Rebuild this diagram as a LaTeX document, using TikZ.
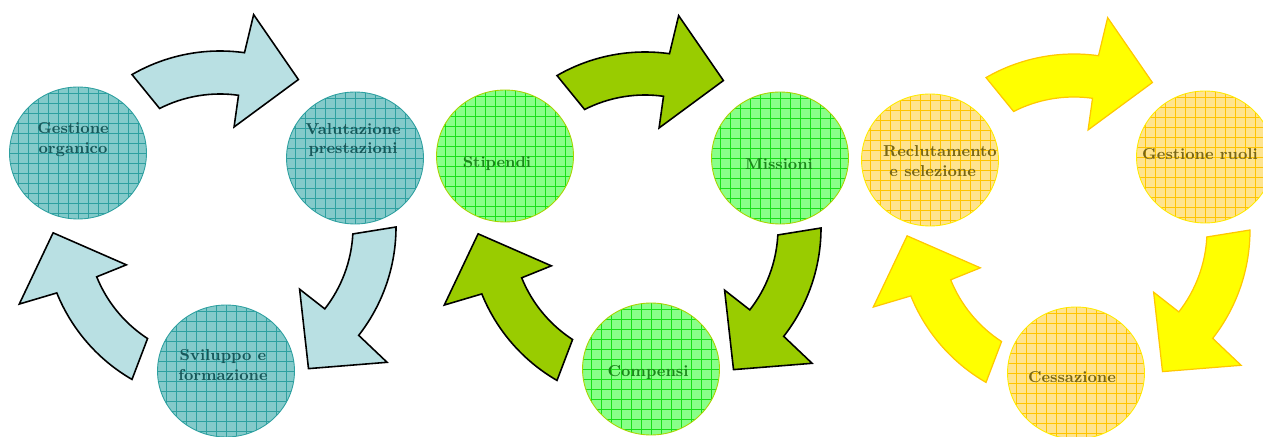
\documentclass[tikz,border=0pt]{standalone}
\usetikzlibrary{positioning,shapes.geometric}
\definecolor{tealorb}{HTML}{84CACA}
\definecolor{tealgrid}{HTML}{2EA0A0}
\definecolor{tealtext}{HTML}{17585A}
\definecolor{tealarrow}{HTML}{B9E0E3}
\definecolor{greenorb}{HTML}{88FF88}
\definecolor{greengrid}{HTML}{18E018}
\definecolor{greenedge}{HTML}{A8D400}
\definecolor{greentext}{HTML}{1A861A}
\definecolor{greenarrow}{HTML}{99CC00}
\definecolor{amberorb}{HTML}{FFE48E}
\definecolor{ambergrid}{HTML}{FFC400}
\definecolor{amberedge}{HTML}{FFEA00}
\definecolor{ambertext}{HTML}{786614}
\definecolor{amberarrow}{HTML}{FFFF00}
\definecolor{amberline}{HTML}{FFC800}

\tikzset{
  bendarrow/.pic={
    \path[pic actions] (120:176) arc[start angle=120, end angle=82, radius=176]
      -- (81:215) -- (62:167) -- (82:101) -- (82:133)
      arc[start angle=82, end angle=117, radius=133] -- cycle;
  }
}

\begin{document}
\begin{tikzpicture}[
  x=0.02cm, y=0.02cm,
  orb/.style n args={3}{ellipse, minimum width=2.74cm, minimum height=2.64cm, inner sep=0pt,
    draw=#2, line width=0.5pt, fill=#1,
    path picture={\draw[#3, line width=0.4pt] ([shift={(-3,-3)}]path picture bounding box.south west)
      grid[step=0.2cm] (path picture bounding box.north east);}},
  tag/.style={font=\fontsize{9}{11.3}\selectfont\bfseries, align=center, inner sep=0pt},
  tealarr/.style={fill=tealarrow, draw=black, line width=0.9pt, line join=miter},
  greenarr/.style={fill=greenarrow, draw=black, line width=0.9pt, line join=miter},
  amberarr/.style={fill=amberarrow, draw=amberline, line width=0.7pt, line join=miter}
]
\useasboundingbox (0,0) rectangle (1263,436);

% group centres
\coordinate (c1) at (220,209);
\coordinate (c2) at (645,208);
\coordinate (c3) at (1074,206);

% arrows
\pic[tealarr] at (c1) {bendarrow};
\pic[tealarr, rotate=-120] at (c1) {bendarrow};
\pic[tealarr, rotate=120] at (c1) {bendarrow};
\pic[greenarr] at (c2) {bendarrow};
\pic[greenarr, rotate=-120] at (c2) {bendarrow};
\pic[greenarr, rotate=120] at (c2) {bendarrow};
\pic[amberarr] at (c3) {bendarrow};
\pic[amberarr, rotate=-120] at (c3) {bendarrow};
\pic[amberarr, rotate=120] at (c3) {bendarrow};

% circles
\node[orb={tealorb}{tealgrid}{tealgrid}] (organico) at (78,283) {};
\node[orb={tealorb}{tealgrid}{tealgrid}] (valutazione) at (355,278) {};
\node[orb={tealorb}{tealgrid}{tealgrid}] (sviluppo) at (226,65) {};
\node[orb={greenorb}{greenedge}{greengrid}] (stipendi) at (505,280) {};
\node[orb={greenorb}{greenedge}{greengrid}] (missioni) at (780,278) {};
\node[orb={greenorb}{greenedge}{greengrid}] (compensi) at (651,67) {};
\node[orb={amberorb}{amberedge}{ambergrid}] (reclutamento) at (930,276) {};
\node[orb={amberorb}{amberedge}{ambergrid}] (ruoli) at (1205,279) {};
\node[orb={amberorb}{amberedge}{ambergrid}] (cessazione) at (1076,63) {};

% labels
\node[tag, text=tealtext] (organico-t) at (73,296) {Gestione\\organico};
\node[tag, text=tealtext] (valutazione-t) at (353,296) {Valutazione\\prestazioni};
\node[tag, text=tealtext] (sviluppo-t) at (223,71) {Sviluppo e\\formazione};
\node[tag, text=greentext] (stipendi-t) at (497,272) {Stipendi};
\node[tag, text=greentext] (missioni-t) at (779,272) {Missioni};
\node[tag, text=greentext] (compensi-t) at (648,63) {Compensi};
\node[tag, text=ambertext, align=left] (reclutamento-t) at (940,275) {Reclutamento\\\ e selezione};
\node[tag, text=ambertext] (ruoli-t) at (1200,282) {Gestione ruoli};
\node[tag, text=ambertext] (cessazione-t) at (1072,59) {Cessazione};
\end{tikzpicture}
\end{document}
